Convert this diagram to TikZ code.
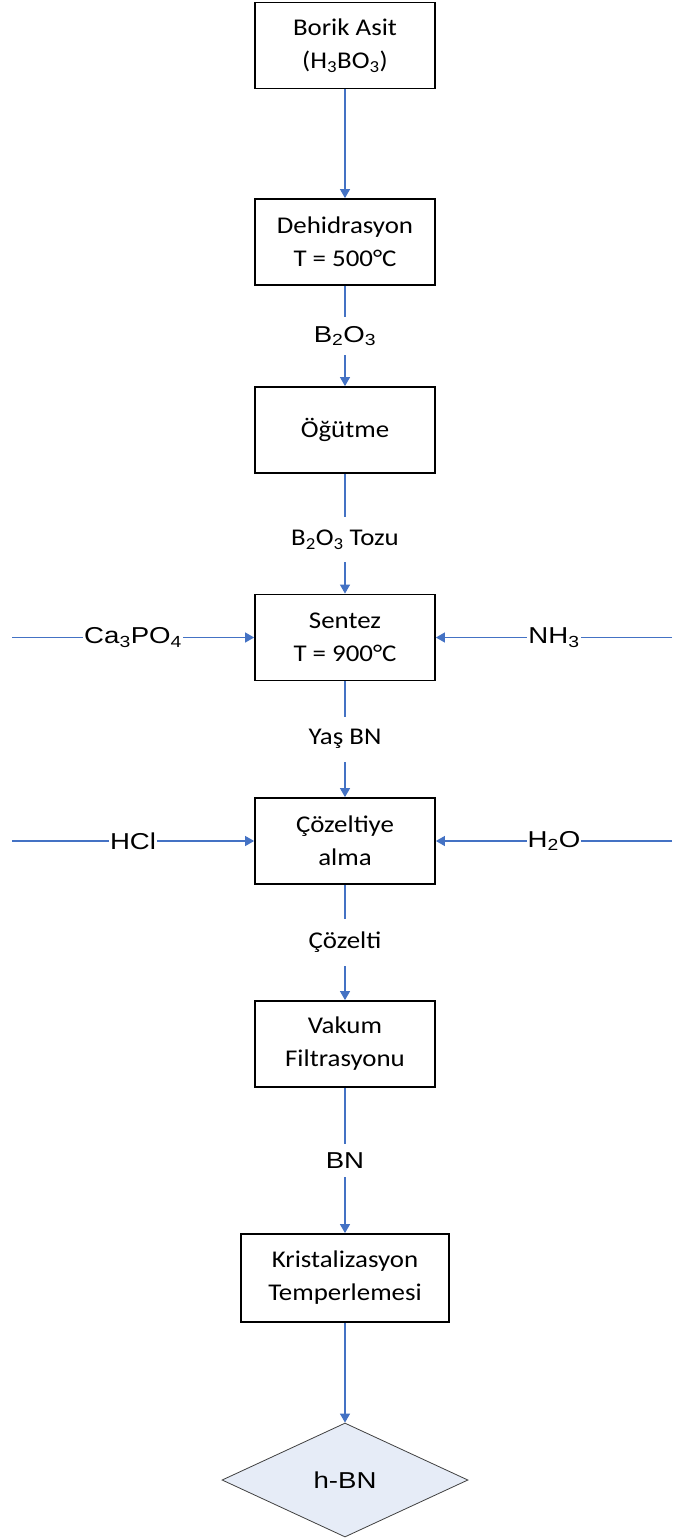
\documentclass[tikz,border=0pt]{standalone}
\usepackage{fontspec}
\setmainfont{Carlito}
\newfontfamily\boxfont[FakeStretch=1.12]{Carlito}
\newfontfamily\lblfont[FakeStretch=1.2]{Liberation Sans}
\usetikzlibrary{arrows.meta,shapes.geometric}
\definecolor{flow}{RGB}{68,114,196}
\definecolor{prodfill}{RGB}{230,236,247}
\begin{document}
\begin{tikzpicture}[x=1pt,y=-1pt,
  stepbox/.style={draw=black,line width=1.8pt,minimum width=180pt,minimum height=86pt,
    align=center,inner sep=0pt,font=\boxfont\fontsize{24}{33}\selectfont},
  flowarrow/.style={draw=flow,line width=1.2pt,-{Triangle[width=10pt,length=9pt]}},
  arialtag/.style={fill=white,inner xsep=2pt,inner ysep=9pt,
    font=\lblfont\fontsize{23}{28}\selectfont},
  calibritag/.style={fill=white,inner xsep=2pt,inner ysep=13pt,
    font=\boxfont\fontsize{24}{30}\selectfont},
  sidetag/.style={fill=white,inner xsep=1pt,inner ysep=2pt,
    font=\lblfont\fontsize{23}{28}\selectfont},
  product/.style={diamond,draw=black!75,fill=prodfill,line width=0.8pt,aspect=2.14,
    minimum width=246pt,minimum height=114pt,inner sep=0pt,
    font=\lblfont\fontsize{23}{28}\selectfont}]
\useasboundingbox (0,0) rectangle (672,1538);

% process steps
\node[stepbox] (b1) at (345,45.5) {Borik Asit\\(H\textsubscript{3}BO\textsubscript{3})};
\node[stepbox] (b2) at (345,242) {Dehidrasyon\\T = 500°C};
\node[stepbox] (b3) at (345,430) {Öğütme};
\node[stepbox] (b4) at (345,637.5) {Sentez\\T = 900°C};
\node[stepbox] (b5) at (345,841) {Çözeltiye\\alma};
\node[stepbox] (b6) at (345,1044) {Vakum\\Filtrasyonu};
\node[stepbox,minimum width=208pt,minimum height=88pt] (b7) at (345,1278) {Kristalizasyon\\Temperlemesi};
\node[product] (p) at (345,1480) {h-BN};

% main flow
\draw[flowarrow] (b1) -- (b2);
\draw[flowarrow] (b2) -- node[arialtag] {B\textsubscript{2}O\textsubscript{3}} (b3);
\draw[flowarrow] (b3) -- node[calibritag,pos=0.55] {B\textsubscript{2}O\textsubscript{3} Tozu} (b4);
\draw[flowarrow] (b4) -- node[calibritag] {Yaş BN} (b5);
\draw[flowarrow] (b5) -- node[calibritag] {Çözelti} (b6);
\draw[flowarrow] (b6) -- node[arialtag] {BN} (b7);
\draw[flowarrow] (b7) -- (p);

% side feeds
\coordinate (caIn) at (12,637.5);
\coordinate (nhIn) at (672,637.5);
\coordinate (hclIn) at (12,841);
\coordinate (waterIn) at (672,841);
\draw[flowarrow] (caIn) -- node[sidetag] {Ca\textsubscript{3}PO\textsubscript{4}} (b4);
\draw[flowarrow] (nhIn) -- node[sidetag] {NH\textsubscript{3}} (b4);
\draw[flowarrow] (hclIn) -- node[sidetag] {HCl} (b5);
\draw[flowarrow] (waterIn) -- node[sidetag] {H\textsubscript{2}O} (b5);
\end{tikzpicture}
\end{document}
